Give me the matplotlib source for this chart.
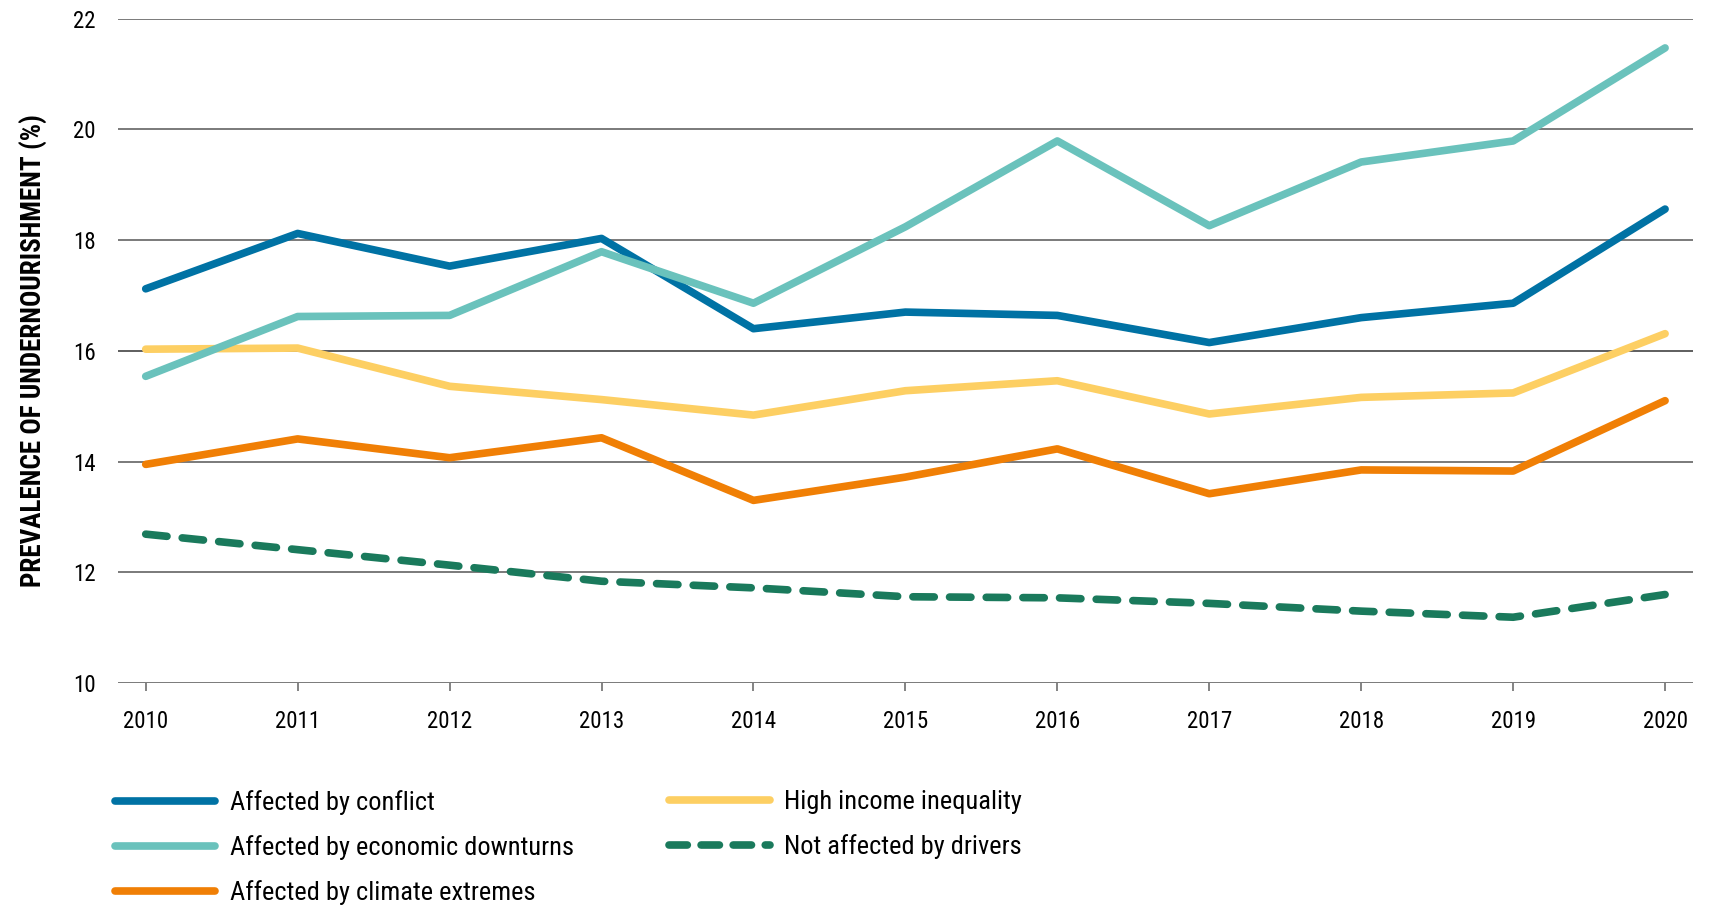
import matplotlib
matplotlib.use("Agg")
import matplotlib.pyplot as plt
from matplotlib.lines import Line2D

plt.rcParams['font.family'] = ['Roboto Condensed', 'Open Sans Condensed', 'Liberation Sans Narrow',
                               'DejaVu Sans Condensed', 'Roboto', 'DejaVu Sans']
plt.rcParams['font.stretch'] = 'condensed'

years = [2010, 2011, 2012, 2013, 2014, 2015, 2016, 2017, 2018, 2019, 2020]
conflict = [17.12, 18.12, 17.53, 18.03, 16.40, 16.70, 16.64, 16.15, 16.60, 16.86, 18.56]
economic = [15.54, 16.62, 16.64, 17.79, 16.86, 18.24, 19.79, 18.26, 19.41, 19.79, 21.47]
inequality = [16.03, 16.05, 15.36, 15.12, 14.84, 15.28, 15.46, 14.86, 15.16, 15.24, 16.31]
climate = [13.95, 14.41, 14.07, 14.43, 13.30, 13.72, 14.23, 13.42, 13.85, 13.83, 15.10]
not_affected = [12.69, 12.41, 12.13, 11.84, 11.72, 11.56, 11.54, 11.44, 11.30, 11.19, 11.60]

labels = ["Affected by conflict", "Affected by economic downturns",
          "Affected by climate extremes", "High income inequality",
          "Not affected by drivers"]
colors = ["#0072A4", "#6AC2BC", "#F07F05", "#FDCF63", "#1A7A5C"]
yticks = [10, 12, 14, 16, 18, 20, 22]

fig = plt.figure(figsize=(17.16, 9.06), dpi=100)
ax = fig.add_axes([0.0688, 0.246, 0.918, 0.7335])

for y in yticks:
    if y == 16:
        ax.axhline(y, color="#333333", lw=1.1, zorder=1)
    else:
        ax.axhline(y, color="#7a7a7a", lw=1.4, zorder=1)

series = [conflict, economic, climate, inequality, not_affected]
order_draw = [4, 2, 3, 0, 1]
lw = 5.5
for i in order_draw:
    if i == 4:
        ax.plot(years, series[i], color=colors[i], lw=lw, linestyle=(0, (2.8, 2.0)),
                dash_capstyle='round', solid_joinstyle='round', zorder=3)
    else:
        ax.plot(years, series[i], color=colors[i], lw=lw,
                solid_capstyle='round', solid_joinstyle='round', zorder=3)

ax.set_xlim(2009.818, 2020.186)
ax.set_ylim(10, 22)
ax.set_yticks(yticks)
ax.set_xticks(years)
ax.set_xticklabels([str(y) for y in years])
for s in ax.spines.values():
    s.set_visible(False)
ax.tick_params(axis='y', length=0, pad=16, labelsize=16.5)
ax.tick_params(axis='x', length=6, width=1.3, color="#7a7a7a", pad=13, labelsize=16.5)
ax.set_ylabel("PREVALENCE OF UNDERNOURISHMENT (%)", fontsize=19.5, fontweight='bold', labelpad=18)

def mk(i):
    if i == 4:
        return Line2D([], [], color=colors[i], lw=lw, linestyle=(0, (2.4, 1.8)), dash_capstyle='round')
    return Line2D([], [], color=colors[i], lw=lw, solid_capstyle='round')

kw = dict(loc='upper left', frameon=False, fontsize=19, handlelength=3.8,
          handletextpad=0.55, labelspacing=0.76, borderpad=0, borderaxespad=0)
fig.legend([mk(0), mk(1), mk(2)], labels[:3], bbox_to_anchor=(0.067, 0.1276), **kw)
fig.legend([mk(3), mk(4)], labels[3:], bbox_to_anchor=(0.390, 0.1276), **kw)

fig.savefig("out.png", dpi=100)
